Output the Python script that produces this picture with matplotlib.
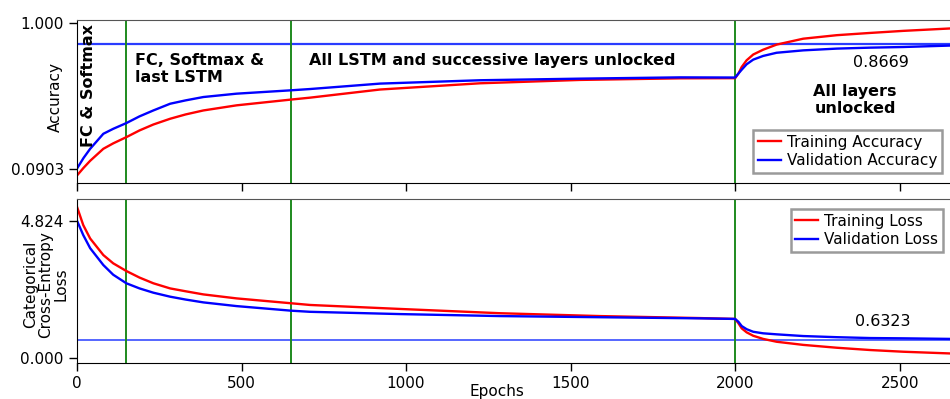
import matplotlib
matplotlib.use("Agg")
import matplotlib.pyplot as plt

# ---- data ----
acc_epochs = [0, 20, 40, 80, 110, 150, 190, 232, 283, 330, 384, 485, 650, 708, 921, 1225,
              1529, 1833, 2000, 2010, 2020, 2035, 2055, 2085, 2126, 2207, 2309, 2410, 2511,
              2653]
train_acc = [0.047, 0.095, 0.139, 0.214, 0.248, 0.287, 0.329, 0.366, 0.402, 0.429, 0.454,
             0.486, 0.522, 0.534, 0.585, 0.624, 0.645, 0.655, 0.656, 0.685, 0.726, 0.768,
             0.804, 0.834, 0.866, 0.903, 0.925, 0.939, 0.952, 0.967]
val_acc = [0.0903, 0.157, 0.214, 0.308, 0.339, 0.375, 0.417, 0.454, 0.496, 0.517, 0.538,
           0.559, 0.580, 0.588, 0.622, 0.643, 0.653, 0.661, 0.660, 0.685, 0.709, 0.743,
           0.772, 0.795, 0.815, 0.830, 0.841, 0.847, 0.851, 0.860]

loss_epochs = [0, 19, 40, 80, 110, 150, 190, 232, 283, 330, 384, 485, 650, 708, 982, 1286,
               1590, 1894, 2000, 2010, 2020, 2035, 2055, 2085, 2126, 2207, 2309, 2410, 2511,
               2653]
train_loss = [5.31, 4.67, 4.20, 3.62, 3.33, 3.06, 2.83, 2.63, 2.45, 2.35, 2.24, 2.10, 1.93,
              1.87, 1.73, 1.58, 1.48, 1.41, 1.38, 1.23, 1.05, 0.91, 0.79, 0.68, 0.58, 0.47,
              0.37, 0.29, 0.23, 0.17]
val_loss = [4.824, 4.32, 3.86, 3.27, 2.93, 2.63, 2.45, 2.30, 2.16, 2.06, 1.96, 1.83, 1.67,
            1.63, 1.55, 1.48, 1.44, 1.40, 1.38, 1.28, 1.13, 1.02, 0.93, 0.876, 0.84, 0.78,
            0.74, 0.71, 0.70, 0.68]

phase_bounds = [150, 650, 2000]
best_val_acc = 0.8669
best_val_loss = 0.6323
acc_ticks = [0.0903, 1.000]
acc_ticklabels = ["0.0903", "1.000"]
loss_ticks = [0.000, 4.824]
loss_ticklabels = ["0.000", "4.824"]
x_ticks = [0, 500, 1000, 1500, 2000, 2500]

plt.rcParams['font.family'] = ['DejaVu Sans']

W, H = 950, 399
fig = plt.figure(figsize=(W / 100, H / 100), dpi=100)

def frac(x0, y0, x1, y1):
    return [x0 / W, 1 - y1 / H, (x1 - x0) / W, (y1 - y0) / H]

ax1 = fig.add_axes(frac(77, 20, 950, 183))
ax2 = fig.add_axes(frac(77, 199, 950, 363), sharex=ax1)

xmax = 2653
red = '#ff0000'
blue = '#0000ff'
green = '#1e8a1e'

# --- accuracy ---
ax1.plot(acc_epochs, train_acc, color=red, lw=1.7, label='Training Accuracy')
ax1.plot(acc_epochs, val_acc, color=blue, lw=1.7, label='Validation Accuracy')
ax1.axhline(best_val_acc, color='#2a3cff', lw=1.6, zorder=1)
for b in phase_bounds:
    ax1.axvline(b, color=green, lw=1.4, zorder=1)
ax1.set_xlim(0, xmax)
ax1.set_ylim(0, 1.02)
ax1.set_yticks(acc_ticks)
ax1.set_yticklabels(acc_ticklabels)
ax1.tick_params(axis='x', labelbottom=False)
ax1.set_ylabel('Accuracy', fontsize=11)
ax1.yaxis.set_label_coords(-0.016, 0.53)

bold = dict(fontsize=11.5, fontweight='bold', color='black')
ax1.text(35, 0.995, 'FC & Softmax', rotation=90, ha='center', va='top', **bold)
ax1.text(176, 0.815, 'FC, Softmax &\nlast LSTM', ha='left', va='top', linespacing=1.15, **bold)
ax1.text(705, 0.768, 'All LSTM and successive layers unlocked', ha='left', va='center', **bold)
ax1.text(2365, 0.52, 'All layers\nunlocked', ha='center', va='center', linespacing=1.15, **bold)
ax1.text(2443, 0.757, f'{best_val_acc:.4f}', ha='center', va='center', fontsize=11.5)

leg1 = ax1.legend(loc='lower right', bbox_to_anchor=(942 / W, 1 - 173 / H),
                  bbox_transform=fig.transFigure, borderaxespad=0, fontsize=11,
                  fancybox=False, framealpha=1, edgecolor='#9a9a9a', handlelength=1.5,
                  handletextpad=0.4, labelspacing=0.25, borderpad=0.3)
leg1.get_frame().set_linewidth(1.8)

# --- loss ---
ax2.plot(loss_epochs, train_loss, color=red, lw=1.7, label='Training Loss')
ax2.plot(loss_epochs, val_loss, color=blue, lw=1.7, label='Validation Loss')
ax2.axhline(best_val_loss, color='#5566ff', lw=1.4, zorder=1)
for b in phase_bounds:
    ax2.axvline(b, color=green, lw=1.4, zorder=1)
ax2.set_ylim(-0.165, 5.585)
ax2.set_yticks(loss_ticks)
ax2.set_yticklabels(loss_ticklabels)
ax2.set_xticks(x_ticks)
ax2.set_ylabel('Categorical\nCross-Entropy\nLoss', fontsize=11, linespacing=1.0)
ax2.yaxis.set_label_coords(-0.010, 0.48)
ax2.set_xlabel('Epochs', fontsize=11)
ax2.xaxis.set_label_coords(0.481, -0.13)
ax2.text(2450, 1.28, f'{best_val_loss:.4f}', ha='center', va='center', fontsize=11.5)

leg2 = ax2.legend(loc='upper right', bbox_to_anchor=(943 / W, 1 - 209 / H),
                  bbox_transform=fig.transFigure, borderaxespad=0, fontsize=11,
                  fancybox=False, framealpha=1, edgecolor='#9a9a9a', handlelength=1.5,
                  handletextpad=0.4, labelspacing=0.25, borderpad=0.3)
leg2.get_frame().set_linewidth(1.8)

for ax in (ax1, ax2):
    ax.spines['right'].set_visible(False)
    ax.spines['top'].set_color('#555555')
    ax.tick_params(labelsize=11, length=6, width=1, direction='out')

fig.savefig('out.png', dpi=100)
